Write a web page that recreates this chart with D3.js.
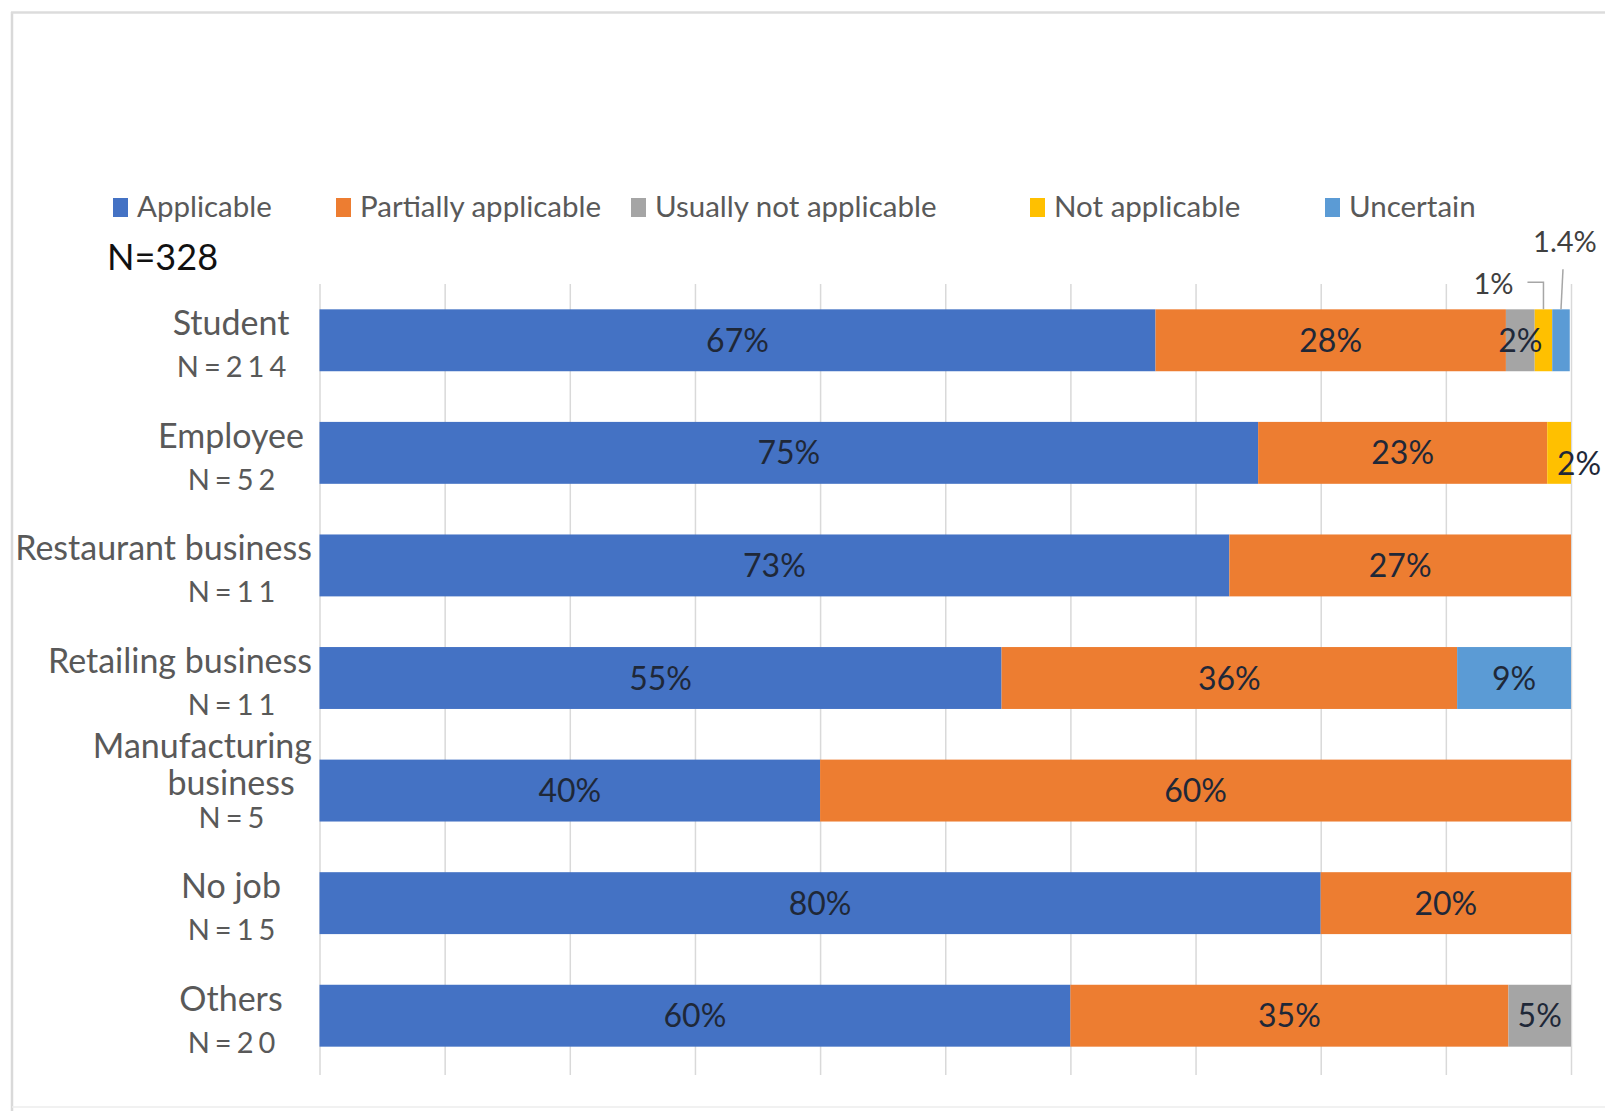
<!DOCTYPE html>
<html><head><meta charset="utf-8">
<script src="https://cdn.jsdelivr.net/npm/d3@7"></script>
<style>body{margin:0;background:#fff;} svg{display:block;}</style>
</head><body><svg id="c" width="1605" height="1111"></svg>
<script>
// ---- data ----
const categories = ["Student", "Employee", "Restaurant business", "Retailing business", "Manufacturing\nbusiness", "No job", "Others"];
const sampleSizes = ["214", "52", "11", "11", "5", "15", "20"];
const seriesNames = ["Applicable", "Partially applicable", "Usually not applicable", "Not applicable", "Uncertain"];
const applicable    = [66.8, 75.0, 72.7, 54.5, 40, 80, 60];
const partially     = [28.0, 23.1, 27.3, 36.4, 60, 20, 35];
const usuallyNot    = [2.3, 0, 0, 0, 0, 0, 5];
const notApplicable = [1.4, 1.9, 0, 0, 0, 0, 0];
const uncertain     = [1.4, 0, 0, 9.1, 0, 0, 0];
const calloutDecimals = [0, 0, 0, 0, 1];
const xTicks = [0, 10, 20, 30, 40, 50, 60, 70, 80, 90, 100];
const totalN = "N=328";

// ---- setup ----
const colors = ["#4472c4", "#ed7d31", "#a5a5a5", "#ffc000", "#5b9bd5"];
const font = "Lato, 'Open Sans', sans-serif";
const svg = d3.select("#c");
const seriesArrays = [applicable, partially, usuallyNot, notApplicable, uncertain];
const rows = categories.map((c, i) => {
  const r = {cat: c, n: sampleSizes[i]};
  seriesNames.forEach((s, j) => r[s] = seriesArrays[j][i]);
  return r;
});

const x = d3.scaleLinear().domain([0, 100]).range([319.5, 1571]);
const y = d3.scaleBand().domain(categories).range([284, 1072]).paddingInner(0.45).paddingOuter(0.225);

// frame
svg.append("line").attr("x1", 12).attr("x2", 12).attr("y1", 12).attr("y2", 1111).attr("stroke", "#d9d9d9").attr("stroke-width", 2.5);
svg.append("line").attr("x1", 11).attr("x2", 1605).attr("y1", 12.5).attr("y2", 12.5).attr("stroke", "#dcdcdc").attr("stroke-width", 2.5);
svg.append("line").attr("x1", 12).attr("x2", 1605).attr("y1", 1107).attr("y2", 1107).attr("stroke", "#ececec").attr("stroke-width", 1.5);

// gridlines via axis
const gx = svg.append("g").attr("transform", "translate(0,284)")
  .call(d3.axisBottom(x).tickValues(xTicks).tickSize(1075 - 284).tickFormat(""));
gx.select(".domain").remove();
gx.selectAll(".tick line").attr("stroke", "#d9d9d9").attr("stroke-width", 1.5);

// bars
const stack = d3.stack().keys(seriesNames)(rows);
const g = svg.append("g");
stack.forEach((layer, j) => {
  g.selectAll(null).data(layer.filter(d => d[1] - d[0] > 0)).enter().append("rect")
    .attr("x", d => x(d[0])).attr("width", d => x(d[1]) - x(d[0]))
    .attr("y", d => y(d.data.cat)).attr("height", y.bandwidth())
    .attr("fill", colors[j]);
});

// data labels
const labelColor = "#1f2838";
stack.forEach((layer, j) => {
  layer.forEach(d => {
    const v = d[1] - d[0];
    if (v <= 0) return;
    const cx = (x(d[0]) + x(d[1])) / 2;
    const top = y(d.data.cat);
    const cy = top + y.bandwidth() / 2;
    if (v < 1.5) {
      const txt = d3.format("." + calloutDecimals[j] + "f")(v) + "%";
      if (j === 3) {
        svg.append("path").attr("d", `M${cx - 16},${top - 27}H${cx}V${top}`)
          .attr("fill", "none").attr("stroke", "#a6a6a6").attr("stroke-width", 1.5);
        svg.append("text").attr("x", cx - 30).attr("y", top - 15).attr("text-anchor", "end")
          .attr("font-family", font).attr("font-size", 29).attr("fill", "#404040").text(txt);
      } else {
        svg.append("line").attr("x1", cx + 2).attr("x2", cx).attr("y1", top - 40).attr("y2", top)
          .attr("stroke", "#a6a6a6").attr("stroke-width", 1.5);
        svg.append("text").attr("x", cx + 4).attr("y", top - 57).attr("text-anchor", "middle")
          .attr("font-family", font).attr("font-size", 29).attr("fill", "#404040").text(txt);
      }
      return;
    }
    let dx = 0, dy = 0;
    if (v < 2.2 && d[1] >= 99.9) { dx = 20; dy = 11; }
    svg.append("text").attr("x", cx + dx).attr("y", cy + dy).attr("dy", "0.36em")
      .attr("text-anchor", "middle").attr("font-family", font).attr("font-size", 32)
      .attr("fill", labelColor).text(Math.round(v) + "%");
  });
});

// category labels
categories.forEach((c, i) => {
  const cy = y(c) + y.bandwidth() / 2;
  const lines = c.split("\n");
  const base = lines.length === 1 ? [cy - 5] : [cy - 33, cy + 4];
  lines.forEach((ln, k) => {
    const t = svg.append("text").attr("y", base[k]).attr("text-anchor", "middle")
      .attr("font-family", font).attr("font-size", 34).attr("fill", "#595959").text(ln);
    const w = t.node().getComputedTextLength();
    const cxL = Math.min(231, 312 - w / 2);
    t.attr("x", cxL);
  });
  svg.append("text").attr("x", 234).attr("y", cy + 37).attr("text-anchor", "middle")
    .attr("font-family", font).attr("font-size", 29).attr("fill", "#595959")
    .attr("letter-spacing", 5).text("N=" + sampleSizes[i]);
});

// legend
const legendX = [113, 336, 631, 1030, 1325];
seriesNames.forEach((s, j) => {
  svg.append("rect").attr("x", legendX[j]).attr("y", 198).attr("width", 15).attr("height", 19).attr("fill", colors[j]);
  svg.append("text").attr("x", legendX[j] + 24).attr("y", 217).attr("font-family", font)
    .attr("font-size", 29.5).attr("fill", "#595959").text(s);
});

// total N
svg.append("text").attr("x", 107).attr("y", 270).attr("font-family", font)
  .attr("font-size", 36).attr("fill", "#111").text(totalN);
</script>
</body></html>
